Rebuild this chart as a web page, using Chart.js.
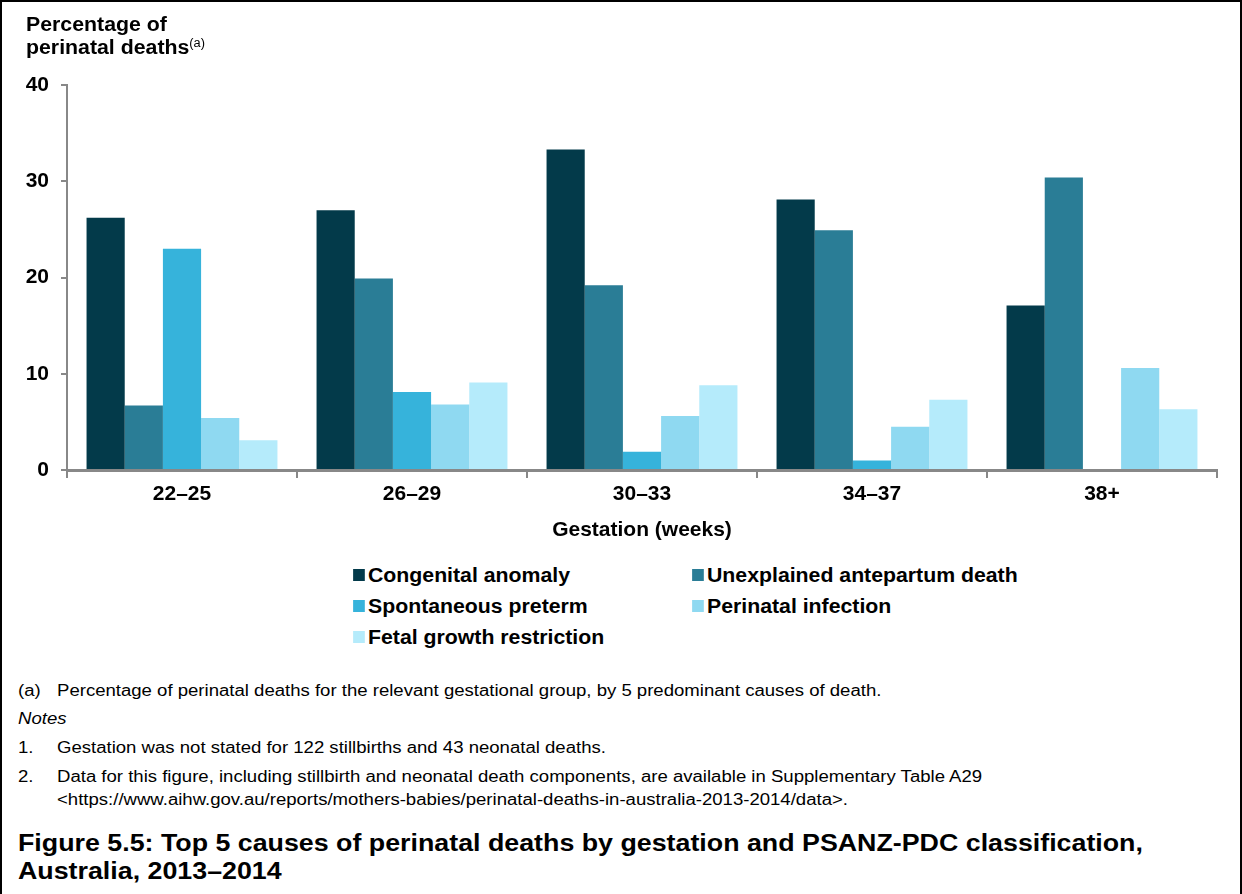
<!DOCTYPE html>
<html>
<head>
<meta charset="utf-8">
<script src="https://cdn.jsdelivr.net/npm/chart.js@4.4.1/dist/chart.umd.min.js"></script>
<style>
  html, body { margin: 0; padding: 0; background: #fff; }
  #page { position: absolute; left: 0; top: 0; width: 1242px; height: 894px; overflow: hidden;
          font-family: "Liberation Sans", Arial, sans-serif; color: #000; }
  #frame { position: absolute; left: 0; top: 0; width: 1242px; height: 900px; box-sizing: border-box;
           border: 2px solid #000; pointer-events: none; }
  #wrap { position: absolute; left: 0; top: 0; width: 1242px; height: 545px; }
  .abs { position: absolute; white-space: nowrap; transform-origin: 0 50%; }
  #ytitle { left: 26px; top: 13px; font-size: 20px; font-weight: bold; line-height: 23px; transform: scaleX(1.065); }
  #ytitle sup { font-size: 12px; font-weight: normal; vertical-align: 0; position: relative; top: -7px; }
  .leg { font-size: 20px; font-weight: bold; line-height: 22px; transform: scaleX(1.063); }
  .leg i { position: absolute; left: -14px; top: 5px; width: 11px; height: 12px; }
  .note { font-size: 16px; line-height: 18px; transform: scaleX(1.16); }
  .ftitle { font-size: 23.5px; font-weight: bold; line-height: 28px; transform: scaleX(1.14); }
</style>
</head>
<body>
<div id="page">
  <div id="wrap"><canvas id="c"></canvas></div>
  <div id="ytitle" class="abs">Percentage of<br>perinatal deaths<sup>(a)</sup></div>
  <div id="legend"></div>
  <div class="abs note" style="left:18px;top:682px;">(a)</div>
  <div class="abs note" style="left:57px;top:682px;">Percentage of perinatal deaths for the relevant gestational group, by 5 predominant causes of death.</div>
  <div class="abs note" style="left:18px;top:710px;font-style:italic;">Notes</div>
  <div class="abs note" style="left:18px;top:739px;">1.</div>
  <div class="abs note" style="left:57px;top:739px;">Gestation was not stated for 122 stillbirths and 43 neonatal deaths.</div>
  <div class="abs note" style="left:18px;top:768px;">2.</div>
  <div class="abs note" style="left:57px;top:768px;">Data for this figure, including stillbirth and neonatal death components, are available in Supplementary Table A29</div>
  <div class="abs note" style="left:57px;top:791px;">&lt;https://www.aihw.gov.au/reports/mothers-babies/perinatal-deaths-in-australia-2013-2014/data&gt;.</div>
  <div class="abs ftitle" style="left:18px;top:829px;">Figure 5.5: Top 5 causes of perinatal deaths by gestation and PSANZ-PDC classification,</div>
  <div class="abs ftitle" style="left:18px;top:857px;">Australia, 2013–2014</div>
  <div id="frame"></div>
</div>
<script>
const categories = ['22–25', '26–29', '30–33', '34–37', '38+'];
const seriesNames = ['Congenital anomaly', 'Unexplained antepartum death', 'Spontaneous preterm', 'Perinatal infection', 'Fetal growth restriction'];
const congenital = [26.2, 27.0, 33.3, 28.1, 17.1];
const unexplained = [6.7, 19.9, 19.2, 24.9, 30.4];
const spontaneous = [23.0, 8.1, 1.9, 1.0, null];
const infection = [5.4, 6.8, 5.6, 4.5, 10.6];
const fgr = [3.1, 9.1, 8.8, 7.3, 6.3];
const colors = ['#033A4A', '#2A7D96', '#36B3DB', '#8FD9F1', '#B5EBFB'];
const yTicks = [0, 10, 20, 30, 40];
const xTitle = 'Gestation (weeks)';

const seriesData = [congenital, unexplained, spontaneous, infection, fgr];

// HTML legend (2 columns)
const legPos = [[368, 564], [707, 564], [368, 595], [707, 595], [368, 626]];
const legEl = document.getElementById('legend');
seriesNames.forEach((n, i) => {
  const d = document.createElement('div');
  d.className = 'abs leg';
  d.style.left = legPos[i][0] + 'px';
  d.style.top = legPos[i][1] + 'px';
  d.innerHTML = '<i style="background:' + colors[i] + '"></i>' + n;
  legEl.appendChild(d);
});

const font = { family: '"Liberation Sans", Arial, sans-serif', weight: 'bold', size: 21 };

new Chart(document.getElementById('c'), {
  type: 'bar',
  data: {
    labels: categories,
    datasets: seriesNames.map((n, i) => ({
      label: n,
      data: seriesData[i],
      backgroundColor: colors[i],
      borderWidth: 0,
      categoryPercentage: 0.83,
      barPercentage: 1.0
    }))
  },
  options: {
    responsive: true,
    maintainAspectRatio: false,
    animation: false,
    layout: { padding: { top: 85, right: 25, left: 0, bottom: 0 } },
    plugins: { legend: { display: false }, tooltip: { enabled: false }, title: { display: false } },
    scales: {
      x: {
        grid: { drawOnChartArea: false, drawTicks: true, tickLength: 8, color: '#888', lineWidth: 2, offset: true },
        border: { color: '#888', width: 3 },
        ticks: { color: '#000', font: font, padding: 4, maxRotation: 0 },
        title: { display: true, text: xTitle, color: '#000', font: font, padding: { top: 0, bottom: 2 } },
        afterFit: s => { s.height = 75; }
      },
      y: {
        min: 0, max: 40,
        afterBuildTicks: s => { s.ticks = yTicks.map(v => ({ value: v })); },
        grid: { drawOnChartArea: false, drawTicks: true, tickLength: 6, color: '#888', lineWidth: 2 },
        border: { color: '#888', width: 2 },
        ticks: { color: '#000', font: font, padding: 12 },
        afterFit: s => { s.width = 67; }
      }
    }
  }
});
</script>
</body>
</html>
